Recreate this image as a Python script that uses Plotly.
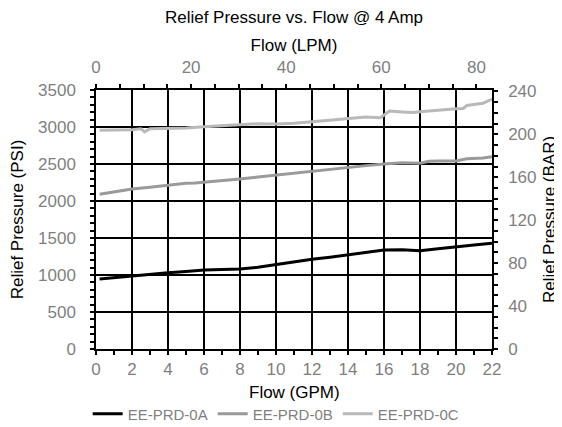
import plotly.graph_objects as go

# ---- data ----
gpm_a = [0.2, 1, 2, 3, 4, 5, 6, 7, 8, 9, 10, 11, 12, 13, 14, 15, 16, 17, 18, 19, 20, 21, 22]
psi_a = [946, 965, 986, 1010, 1031, 1048, 1068, 1075, 1081, 1105, 1144, 1180, 1212, 1240, 1270, 1306, 1338, 1340, 1329, 1355, 1383, 1405, 1428]

gpm_b = [0.2, 1, 2, 3, 4, 5, 5.5, 6, 7, 8, 9, 10, 11, 12, 13, 14, 15, 16, 17, 18, 18.5, 19, 20, 20.6, 21.5, 22]
psi_b = [2090, 2125, 2162, 2185, 2216, 2239, 2242, 2252, 2275, 2297, 2325, 2351, 2374, 2410, 2432, 2455, 2478, 2500, 2518, 2509, 2536, 2540, 2540, 2570, 2580, 2599]

gpm_c = [0.2, 1, 2, 2.5, 2.7, 3, 4, 5, 6, 7, 8, 9, 10, 11, 12, 13, 14, 15, 15.8, 16.3, 17, 17.6, 18, 19, 20, 20.4, 20.6, 21.5, 22]
psi_c = [2955, 2958, 2964, 2975, 2935, 2978, 2978, 2987, 3005, 3018, 3027, 3045, 3040, 3050, 3072, 3090, 3108, 3136, 3126, 3216, 3203, 3195, 3205, 3230, 3245, 3250, 3290, 3320, 3378]

series_names = ["EE-PRD-0A", "EE-PRD-0B", "EE-PRD-0C"]
series_colors = ["#000000", "#9a9a9a", "#b9b9b9"]

GPM_MAX = 22
PSI_MAX = 3500
LPM_PER_GPM = 3.78541
PSI_PER_BAR = 14.5038

FONT = "Liberation Sans, Arial, sans-serif"
TICK_GRAY = "#7f7f7f"
FS = 17

fig = go.Figure()
for xs, ys, name, col in zip([gpm_a, gpm_b, gpm_c], [psi_a, psi_b, psi_c], series_names, series_colors):
    fig.add_trace(go.Scatter(x=xs, y=ys, mode="lines", name=name,
                             line=dict(color=col, width=3)))

# invisible trace to activate secondary axes
fig.add_trace(go.Scatter(x=[0], y=[0], xaxis="x2", yaxis="y2", mode="markers",
                         marker=dict(opacity=0), showlegend=False, hoverinfo="skip"))

axis_common = dict(showline=True, linecolor="black", linewidth=1.5,
                   tickfont=dict(family=FONT, size=FS, color=TICK_GRAY),
                   ticks="outside", ticklen=4, tickcolor="black", tickwidth=1.5,
                   zeroline=False, automargin=False)

minor_common = dict(ticks="outside", ticklen=4, tickcolor="black", tickwidth=1.5, showgrid=False)

# page has an 8px body margin, so the figure is sized/offset accordingly
W, H = 554, 419
PLOT_H = H - 82 - 78

fig.update_layout(
    width=W, height=H,
    margin=dict(l=88, r=70, t=82, b=78, autoexpand=False),
    paper_bgcolor="white", plot_bgcolor="white",
    font=dict(family=FONT, size=FS, color="black"),
    title=dict(text="Relief Pressure vs. Flow @ 4 Amp", x=0.5, xref="paper", xanchor="center",
               y=1 - 9 / H, yref="container", yanchor="middle",
               font=dict(family=FONT, size=FS, color="black")),
    xaxis=dict(range=[0, GPM_MAX], dtick=2, showgrid=True, gridcolor="black", gridwidth=1.5,
               ticklabelstandoff=0,
               minor=dict(dtick=1, **minor_common),
               **axis_common),
    yaxis=dict(range=[0, PSI_MAX], dtick=500, showgrid=True, gridcolor="black", gridwidth=1.5,
               ticklabelstandoff=11,
               title=dict(text="Relief Pressure (PSI)", standoff=14, font=dict(size=FS, color="black")),
               minor=dict(dtick=100, **minor_common),
               **axis_common),
    xaxis2=dict(overlaying="x", side="top", anchor="y",
                range=[0, GPM_MAX * LPM_PER_GPM], dtick=20, showgrid=False,
                ticklabelstandoff=4,
                title=dict(text="Flow (LPM)", standoff=3, font=dict(size=FS, color="black")),
                minor=dict(dtick=5, **minor_common),
                **axis_common),
    yaxis2=dict(overlaying="y", side="right", anchor="x",
                range=[0, PSI_MAX / PSI_PER_BAR], dtick=40, showgrid=False,
                ticklabelstandoff=7,
                title=dict(text="Relief Pressure (BAR)", standoff=8, font=dict(size=FS, color="black")),
                minor=dict(dtick=10, **minor_common),
                **axis_common),
    legend=dict(orientation="h", x=0.455, xanchor="center", yref="container",
                y=(H - 406) / H, yanchor="middle",
                font=dict(family=FONT, size=15, color=TICK_GRAY), itemwidth=30,
                tracegroupgap=0, bgcolor="rgba(0,0,0,0)"),
    showlegend=True,
)

# bottom axis title placed as an annotation for exact vertical position
fig.add_annotation(text="Flow (GPM)", xref="paper", yref="paper", x=0.5, y=-43 / PLOT_H,
                   xanchor="center", yanchor="middle", showarrow=False,
                   font=dict(family=FONT, size=FS, color="black"))

fig.write_html("out.html")
